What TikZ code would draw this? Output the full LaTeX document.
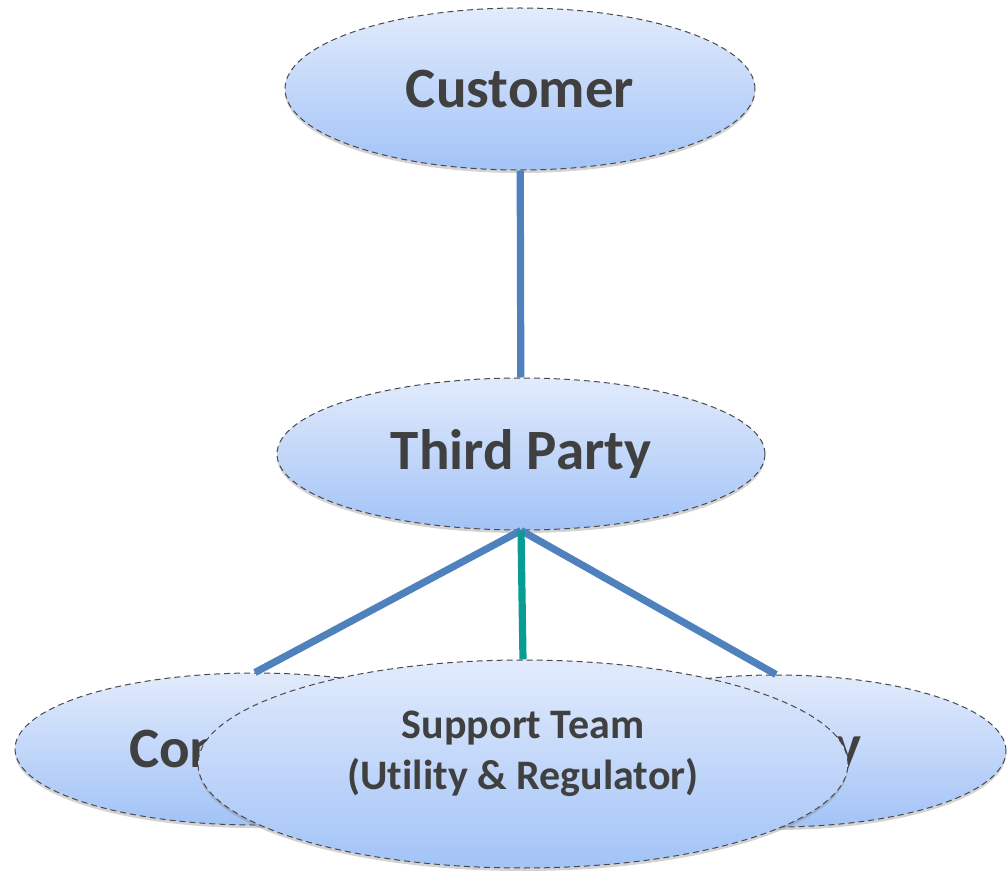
\documentclass[tikz,border=0pt]{standalone}
\usepackage{fontspec}
\setmainfont{Carlito}[Ligatures=NoCommon]
\usepackage{tikz}
\usetikzlibrary{shapes.geometric,shadows}
\definecolor{bub_top}{HTML}{E2EBFC}
\definecolor{bub_bot}{HTML}{A2C3F7}
\definecolor{bub_line}{HTML}{4A4A4A}
\definecolor{txt_gray}{HTML}{404040}
\definecolor{link_blue}{HTML}{4F81BD}
\definecolor{link_teal}{HTML}{099C94}

\begin{document}
\begin{tikzpicture}[x=0.5pt, y=-0.5pt,
    bubble/.style={ellipse, inner sep=0pt, draw=bub_line, densely dashed, line width=0.5pt,
        top color=bub_top, bottom color=bub_bot, text=txt_gray, font=\bfseries,
        drop shadow={opacity=0.35, shadow xshift=0pt, shadow yshift=-1.5pt}},
    big/.style={font=\bfseries\fontsize{28.5}{34}\selectfont},
    link/.style={line width=3.6pt, draw=link_blue}]
            \useasboundingbox (0,0) rectangle (1008,872);
            \node[bubble, big, minimum width=235pt, minimum height=81pt] (cust) at (520,89) {Customer};
            \node[bubble, big, minimum width=244pt, minimum height=76pt] (third) at (521,454) {Third Party};
            \node[bubble, big, minimum width=240pt, minimum height=76pt] (cont) at (255,749) {Contractor};
            \node[bubble, big, minimum width=230pt, minimum height=76pt] (agency) at (776,751) {Agency};
            \node[bubble, minimum width=325pt, minimum height=104pt, align=center,
                font=\bfseries\fontsize{21}{25.5}\selectfont] (team) at (523,764) {Support Team\\(Utility \& Regulator)\\[-12pt]\mbox{}};
            \draw[link] (cust) -- (third);
            \foreach \n in {cont, agency}
            {\draw[link] (third.south) -- (\n.north);}
            \draw[link, draw=link_teal] (third.south) -- (team.north);
        \end{tikzpicture}
\end{document}
